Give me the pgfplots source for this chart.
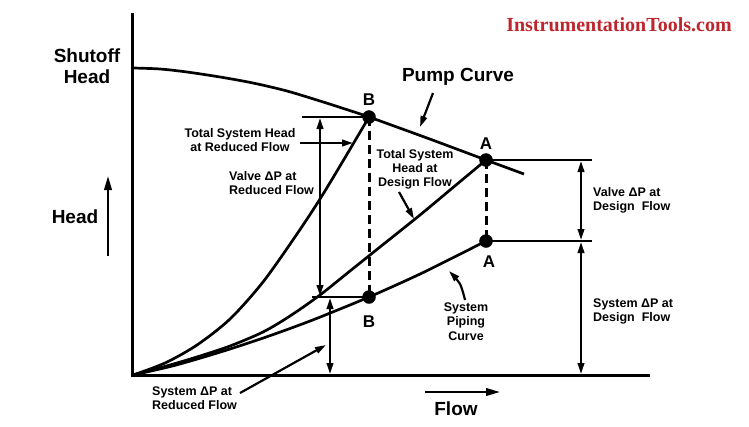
\documentclass[border=0pt]{standalone}
\usepackage{pgfplots}
\pgfplotsset{compat=1.18}
\usepackage{fontspec}
\setmainfont{Liberation Sans}
\newfontfamily\wmfont{Liberation Serif}
\usetikzlibrary{arrows.meta}
\definecolor{wmred}{RGB}{190,38,45}
\tikzset{
  tip/.style={-{Triangle[length=11pt,width=6.5pt]}},
  dtip/.style={{Triangle[length=11pt,width=6.5pt]}-{Triangle[length=11pt,width=6.5pt]}},
  lbl/.style={font=\fontsize{12.5}{14}\selectfont\bfseries,inner sep=0pt},
  biglbl/.style={font=\fontsize{19}{21.5}\selectfont\bfseries,inner sep=0pt},
  ptlbl/.style={font=\fontsize{17}{19}\selectfont\bfseries,inner sep=0pt}}
\begin{document}
\begin{tikzpicture}
\path[use as bounding box] (0,0) rectangle (749pt,426pt);
\begin{axis}[at={(0,0)},anchor=south west,width=749pt,height=426pt,scale only axis,hide axis,
  xmin=0,xmax=749,ymin=0,ymax=426,y dir=reverse,clip=false,
  every axis plot/.append style={black}]
% axes
\addplot[line width=3pt,line join=miter] coordinates {(132,13) (132,375) (650,375)};
% pump curve
\addplot[smooth,line width=2.7pt] coordinates {(133,68) (160,69) (187,72) (220,77) (253,83) (287,91) (320,101) (345,109) (369,117) (427,138) (486,160) (524,174)};
% total system head at reduced flow (steep curve)
\addplot[smooth,line width=2.7pt] coordinates {(133,375) (165,363) (197,345) (230,319) (263,282) (297,234) (320,199) (343,161) (369,117)};
% total system head at design flow
\addplot[smooth,line width=2.7pt] coordinates {(133,375) (170,365) (200,356) (230,346) (263,332) (290,316) (320,295) (350,271) (380,247) (420,215) (450,190) (486,160)};
% system piping curve
\addplot[smooth,line width=2.7pt] coordinates {(133,375) (170,366.6) (200,358.2) (230,349) (263,338.1) (293,327.4) (320,317.1) (369,297) (423,272.6) (486,241)};
% dashed verticals
\addplot[line width=3pt,dash pattern=on 9pt off 5pt] coordinates {(369,117) (369,297)};
\addplot[line width=3pt,dash pattern=on 9pt off 5pt] coordinates {(486,160) (486,241)};
% horizontal reference lines
\addplot[line width=2.2pt] coordinates {(302,117) (369,117)};
\addplot[line width=2.2pt] coordinates {(312,297) (369,297)};
\addplot[line width=2.2pt] coordinates {(486,160) (592,160)};
\addplot[line width=2.2pt] coordinates {(486,241) (592,241)};
% double arrows
\addplot[line width=2.2pt,dtip] coordinates {(320,118) (320,296)};
\addplot[line width=2.2pt,dtip] coordinates {(330,298) (330,374)};
\addplot[line width=2.2pt,dtip] coordinates {(581,161) (581,240)};
\addplot[line width=2.2pt,dtip] coordinates {(581,242) (581,374)};
% pointer arrows
\addplot[line width=2.2pt,tip] coordinates {(300,143) (353,143)};
\addplot[line width=2.2pt,tip] coordinates {(240,393) (326,345)};
\addplot[line width=2.2pt,tip] coordinates {(433,93) (420,127)};
\addplot[line width=2.2pt,tip] coordinates {(399,192) (414,219)};
\addplot[line width=2.2pt,tip,smooth] coordinates {(465,300) (460,284) (449,271)};
\addplot[line width=2.2pt,-{Triangle[length=14pt,width=7.5pt]}] coordinates {(108,256) (108,176)};
\addplot[line width=2.2pt,-{Triangle[length=14pt,width=7.5pt]}] coordinates {(425,392) (500,392)};
% operating points
\addplot[only marks,mark=*,mark size=6.5pt,mark options={fill=black,draw=black}] coordinates {(369,117) (369,297) (486,160) (486,241)};
% labels
\node[biglbl,align=center] at (axis cs:87,66) {Shutoff\\Head};
\node[biglbl] at (axis cs:75,217) {Head};
\node[biglbl] at (axis cs:458,77) {Pump Curve};
\node[biglbl] at (axis cs:456,409) {Flow};
\node[ptlbl] at (axis cs:369,100) {B};
\node[ptlbl] at (axis cs:369,322) {B};
\node[ptlbl] at (axis cs:486,144) {A};
\node[ptlbl] at (axis cs:489,262) {A};
\node[lbl,align=center] at (axis cs:240,140) {Total System Head\\at Reduced Flow};
\node[lbl,align=left,anchor=west] at (axis cs:229,183) {Valve ΔP at\\Reduced Flow};
\node[lbl,align=center] at (axis cs:415,169) {Total System\\Head at\\Design Flow};
\node[lbl,align=left,anchor=west] at (axis cs:593,200) {Valve ΔP at\\Design\ \ Flow};
\node[lbl,align=left,anchor=west] at (axis cs:593,311.5) {System ΔP at\\Design\ \ Flow};
\node[lbl,align=center,font=\fontsize{12.5}{14.5}\selectfont\bfseries] at (axis cs:466,321.5) {System\\Piping\\Curve};
\node[lbl,align=left,anchor=west] at (axis cs:152,398) {System ΔP at\\Reduced Flow};
\node[inner sep=0pt,font=\wmfont\fontsize{20}{22}\selectfont\bfseries,text=wmred] at (axis cs:619,25) {InstrumentationTools.com};
\end{axis}
\end{tikzpicture}
\end{document}
